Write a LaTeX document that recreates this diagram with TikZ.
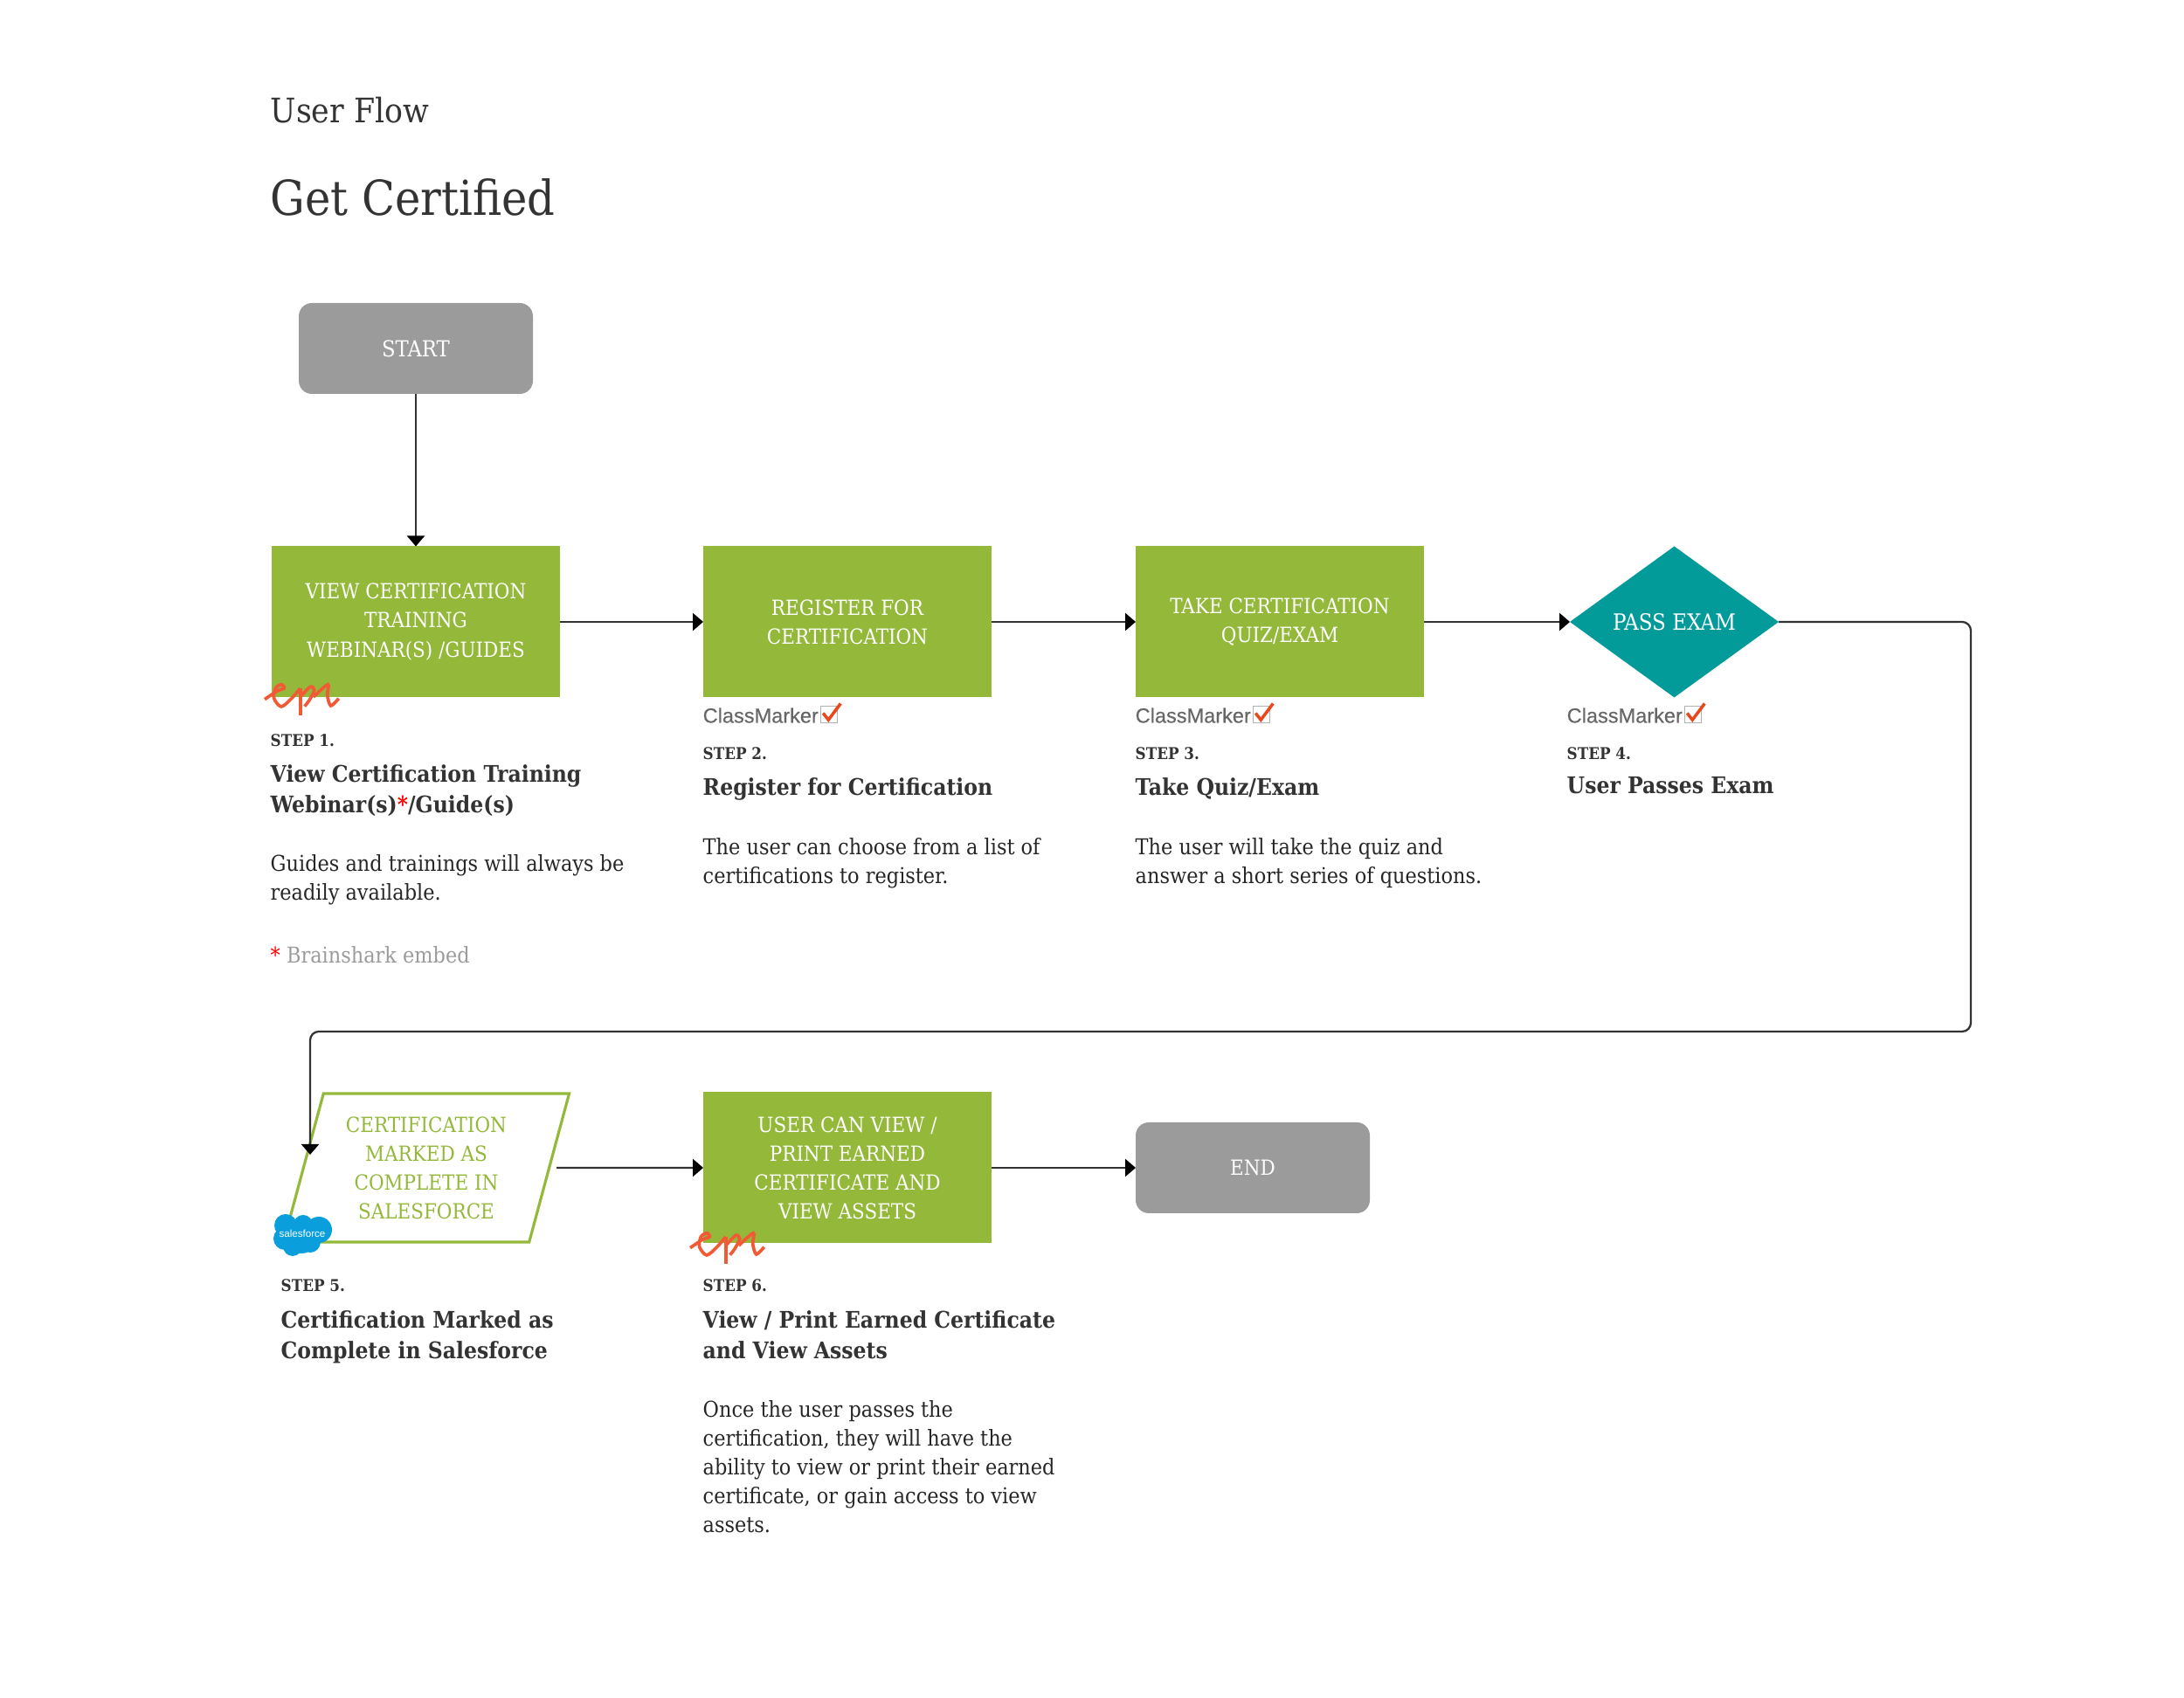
\documentclass[tikz,border=0pt]{standalone}
\usepackage{fontspec}
\setmainfont{DejaVu Serif Condensed}
\newfontfamily\cmfont{Liberation Sans}[FakeBold=0.3]
\newfontfamily\sffont{Liberation Sans}
\usetikzlibrary{arrows.meta,shapes.geometric}

\definecolor{certgreen}{HTML}{93B83A}
\definecolor{certteal}{HTML}{039A9A}
\definecolor{certgrey}{HTML}{9B9B9B}
\definecolor{certink}{HTML}{333333}
\definecolor{epired}{HTML}{F15A35}
\definecolor{checkred}{HTML}{E8481C}
\definecolor{sfblue}{HTML}{0A9EDC}

\tikzset{
	boxfont/.style={font=\fontsize{6.8}{9.4}\selectfont,align=center,text=white},
	endbox/.style={boxfont,fill=certgrey,rounded corners=0.15cm,minimum width=2.68cm,minimum height=1.04cm,inner sep=0,outer sep=0},
	stepbox/.style={boxfont,fill=certgreen,minimum width=3.3cm,minimum height=1.73cm,inner sep=0,outer sep=0},
	examnode/.style={boxfont,font=\fontsize{7.3}{9.4}\selectfont,diamond,fill=certteal,shape aspect=1.387,minimum width=2.39cm,minimum height=1.73cm,inner sep=0,outer sep=0},
	salesnode/.style={boxfont,text=certgreen,draw=certgreen,line width=0.9pt,trapezium,trapezium left angle=73,trapezium right angle=107,trapezium stretches=true,minimum width=3.28cm,minimum height=1.7cm,inner sep=0,outer sep=0},
	flow/.style={draw=certink,line width=0.65pt,-{Triangle[black,length=0.12cm,width=0.2cm]}},
	steplabel/.style={anchor=base west,inner sep=0,font=\fontsize{5.3}{7}\bfseries\selectfont,text=certink},
	headtext/.style={anchor=north west,inner sep=0,align=left,font=\fontsize{7.45}{10}\bfseries\selectfont,text=certink},
	bodytext/.style={anchor=north west,inner sep=0,align=left,font=\fontsize{7.1}{9.4}\selectfont,text=black!85},
	cmlabel/.style={anchor=base west,inner sep=0,font=\fontsize{6.7}{8}\cmfont\selectfont,text=black!60},
	cmcheck/.pic={
		\draw[black!30,fill=white,line width=0.5pt] (0,0) rectangle (0.19,0.19);
		\draw[checkred,line width=1pt] (0.027,0.11) -- (0.087,0.033) -- (0.227,0.22);
	},
	epilogo/.pic={
		\draw[epired,line width=1.05pt,smooth] plot coordinates {(0.01,-0.177) (0.15,-0.083) (0.233,-0.05) (0.2,-0.007) (0.133,-0.05) (0.117,-0.167) (0.2,-0.26) (0.317,-0.167) (0.417,-0.05)};
		\draw[epired,line width=1.05pt] (0.417,-0.05) -- (0.417,-0.36);
		\draw[epired,line width=1.05pt,smooth] plot coordinates {(0.417,-0.15) (0.533,-0.033) (0.577,-0.073) (0.523,-0.183) (0.467,-0.257)};
		\draw[epired,line width=1.05pt,smooth] plot coordinates {(0.567,-0.15) (0.733,-0.007) (0.727,-0.133) (0.767,-0.25) (0.857,-0.167)};
	}
}

\begin{document}
\begin{tikzpicture}
	\useasboundingbox (0,0) rectangle (25,19.44);

	\node[anchor=base west,inner sep=0,font=\fontsize{11}{14}\selectfont,text=certink] (flowtitle) at (3.09,18.03) {User Flow};
	\node[anchor=base west,inner sep=0,font=\fontsize{15.7}{20}\selectfont,text=certink] (gettitle) at (3.09,16.975) {Get Certified};

	\node[endbox,font=\fontsize{7.2}{9.4}\selectfont] (start) at (4.76,15.45) {START};
	\node[stepbox] (view) at (4.76,12.32) {VIEW CERTIFICATION\\TRAINING\\WEBINAR(S) /GUIDES};
	\node[stepbox] (register) at (9.7,12.32) {REGISTER FOR\\CERTIFICATION};
	\node[stepbox] (take) at (14.65,12.32) {TAKE CERTIFICATION\\QUIZ/EXAM};
	\node[examnode] (pass) at (19.165,12.32) {PASS EXAM};
	\node[salesnode] (marked) at (4.88,6.07) {CERTIFICATION\\MARKED AS\\COMPLETE IN\\SALESFORCE};
	\node[stepbox] (print) at (9.7,6.07) {USER CAN VIEW /\\PRINT EARNED\\CERTIFICATE AND\\VIEW ASSETS};
	\node[endbox] (finish) at (14.34,6.07) {END};

	\coordinate (turnright) at (22.56,12.32);
	\coordinate (turnlow) at (22.56,7.63);
	\coordinate (turnleft) at (3.55,7.63);
	\coordinate (markedin) at (3.55,6.22);

	\draw[flow] (start) -- (view);
	\draw[flow] (view) -- (register);
	\draw[flow] (register) -- (take);
	\draw[flow] (take) -- (pass);
	\draw[flow,rounded corners=0.1cm] (pass.east) -- (turnright) -- (turnlow) -- (turnleft) -- (markedin);
	\draw[flow,shorten <=0.085cm] (marked.east) -- (print.west);
	\draw[flow] (print) -- (finish);

	\pic at (3.02,11.61) {epilogo};
	\pic at (7.89,5.33) {epilogo};

	% salesforce cloud
	\fill[sfblue] (3.27,5.41) circle (0.13) (3.47,5.42) circle (0.11) (3.65,5.36) circle (0.15) (3.35,5.17) circle (0.11) (3.26,5.26) circle (0.13) (3.55,5.22) circle (0.12) (3.45,5.29) circle (0.2);
	\node[inner sep=0,text=white,font=\fontsize{3.3}{4}\sffont\selectfont] (sflogo) at (3.46,5.32) {salesforce};

	\node[cmlabel] (cmreg) at (8.04,11.165) {ClassMarker};
	\node[cmlabel] (cmtake) at (12.99,11.165) {ClassMarker};
	\node[cmlabel] (cmpass) at (17.93,11.165) {ClassMarker};
	\pic at ([xshift=0.02cm]cmreg.base east) {cmcheck};
	\pic at ([xshift=0.02cm]cmtake.base east) {cmcheck};
	\pic at ([xshift=0.02cm]cmpass.base east) {cmcheck};

	\node[steplabel] (step1) at (3.09,10.89) {STEP 1.};
	\node[steplabel] (step2) at (8.04,10.74) {STEP 2.};
	\node[steplabel] (step3) at (12.99,10.74) {STEP 3.};
	\node[steplabel] (step4) at (17.93,10.74) {STEP 4.};
	\node[steplabel] (step5) at (3.21,4.655) {STEP 5.};
	\node[steplabel] (step6) at (8.04,4.655) {STEP 6.};

	\node[headtext] (head1) at (3.09,10.69) {View Certification Training\\Webinar(s){\color{red}*}/Guide(s)};
	\node[headtext] (head2) at (8.04,10.54) {Register for Certification};
	\node[headtext] (head3) at (12.99,10.54) {Take Quiz/Exam};
	\node[headtext] (head4) at (17.93,10.55) {User Passes Exam};
	\node[headtext] (head5) at (3.21,4.44) {Certification Marked as\\Complete in Salesforce};
	\node[headtext] (head6) at (8.04,4.44) {View / Print Earned Certificate\\and View Assets};

	\node[bodytext] (body1) at (3.09,9.665) {Guides and trainings will always be\\readily available.};
	\node[bodytext,text=certgrey] (note1) at (3.09,8.615) {{\color{red}*} Brainshark embed};
	\node[bodytext] (body2) at (8.04,9.855) {The user can choose from a list of\\certifications to register.};
	\node[bodytext] (body3) at (12.99,9.855) {The user will take the quiz and\\answer a short series of questions.};
	\node[bodytext] (body6) at (8.04,3.41) {Once the user passes the\\certification, they will have the\\ability to view or print their earned\\certificate, or gain access to view\\assets.};
\end{tikzpicture}
\end{document}
